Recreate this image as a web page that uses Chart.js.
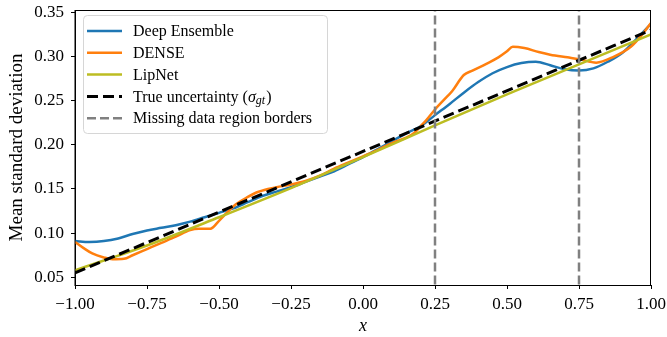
<!DOCTYPE html>
<html>
<head>
<meta charset="utf-8">
<script src="https://cdn.jsdelivr.net/npm/chart.js@4.4.1/dist/chart.umd.min.js"></script>
<style>
    html, body { margin: 0; padding: 0; background: #fff; }
</style>
</head>
<body>
<canvas id="uncertainty-chart" width="667" height="337"></canvas>
<script>
"use strict";

// Deep Ensemble
const ensembleX = [-1.0, -0.95, -0.9, -0.85, -0.8, -0.75, -0.7, -0.65, -0.6, -0.55, -0.5, -0.45, -0.4, -0.35, -0.3, -0.25, -0.2, -0.15, -0.1, -0.05, 0.0, 0.05, 0.1, 0.15, 0.2, 0.25, 0.3, 0.35, 0.4, 0.45, 0.5, 0.55, 0.6, 0.65, 0.7, 0.75, 0.8, 0.85, 0.9, 0.95, 1.0];
const ensembleY = [0.091, 0.090, 0.091, 0.094, 0.099, 0.103, 0.106, 0.109, 0.113, 0.118, 0.123, 0.128, 0.135, 0.142, 0.147, 0.152, 0.158, 0.164, 0.170, 0.178, 0.186, 0.195, 0.204, 0.213, 0.221, 0.2336, 0.246, 0.259, 0.271, 0.281, 0.288, 0.2925, 0.294, 0.290, 0.2855, 0.284, 0.2865, 0.294, 0.304, 0.320, 0.337];

// DENSE
const denseX = [-1.0, -0.97, -0.94, -0.9, -0.87, -0.83, -0.8, -0.75, -0.7, -0.65, -0.6, -0.57, -0.53, -0.5, -0.47, -0.44, -0.4, -0.37, -0.33, -0.3, -0.25, -0.2, -0.15, -0.1, -0.05, 0.0, 0.05, 0.1, 0.15, 0.18, 0.2, 0.22, 0.25, 0.28, 0.31, 0.35, 0.38, 0.43, 0.47, 0.5, 0.52, 0.56, 0.61, 0.65, 0.71, 0.75, 0.81, 0.87, 0.93, 0.97, 1.0];
const denseY = [0.090, 0.083, 0.077, 0.0725, 0.0705, 0.071, 0.075, 0.082, 0.089, 0.096, 0.1035, 0.105, 0.105, 0.114, 0.124, 0.133, 0.141, 0.146, 0.150, 0.152, 0.155, 0.159, 0.165, 0.173, 0.180, 0.187, 0.194, 0.202, 0.208, 0.214, 0.221, 0.228, 0.240, 0.2505, 0.261, 0.279, 0.284, 0.292, 0.299, 0.306, 0.311, 0.3095, 0.305, 0.302, 0.299, 0.297, 0.293, 0.2996, 0.311, 0.325, 0.338];

// LipNet
const lipnetX = [-1.0, -0.9, -0.75, -0.5, -0.25, 0.0, 0.25, 0.5, 0.75, 1.0];
const lipnetY = [0.058, 0.069, 0.086, 0.118, 0.151, 0.186, 0.222, 0.257, 0.291, 0.325];

// True uncertainty (sigma_gt)
const trueX = [-1.0, 1.0];
const trueY = [0.055, 0.330];

// Missing data region borders
const borderX = [0.25, 0.75];

const xTicks = [-1.0, -0.75, -0.5, -0.25, 0.0, 0.25, 0.5, 0.75, 1.0];
const yTicks = [0.05, 0.10, 0.15, 0.20, 0.25, 0.30, 0.35];
const xMin = -1.0;
const xMax = 1.0;
const yMin = 0.0413;
const yMax = 0.3526;

const SERIF = '"Liberation Serif", "DejaVu Serif", serif';

function toPoints(xs, ys) {
    return xs.map((x, i) => ({ x: x, y: ys[i] }));
}

// vertical border lines, separated by a gap
function borderPoints() {
    const pts = [];
    borderX.forEach((x, i) => {
        if (i > 0) pts.push({ x: x, y: null });
        pts.push({ x: x, y: yMin - 1 });
        pts.push({ x: x, y: yMax + 1 });
    });
    return pts;
}

function fmt(v) {
    return v.toFixed(2).replace('-', '\u2212');
}

/**
 * Frame (top/right spines) and in-plot legend
 */
const framePlugin = {
    id: 'frame',
    afterDatasetsDraw(chart) {
        const { ctx, chartArea } = chart;
        ctx.save();
        ctx.strokeStyle = '#000';
        ctx.lineWidth = 1;
        ctx.strokeRect(chartArea.left, chartArea.top + 0.5, chartArea.right - chartArea.left - 0.5, chartArea.bottom - chartArea.top);
        ctx.restore();
    },
    afterDraw(chart) {
        const { ctx, chartArea } = chart;
        const entries = chart.data.datasets.filter(ds => ds.legendIndex !== undefined)
            .sort((a, b) => a.legendIndex - b.legendIndex);

        const boxX = chartArea.left + 8;
        const boxY = chartArea.top + 5;
        const boxW = 244;
        const boxH = 118;
        const rowH = 21.8;

        ctx.save();
        ctx.beginPath();
        ctx.roundRect(boxX + 0.5, boxY + 0.5, boxW, boxH, 4);
        ctx.fillStyle = 'rgba(255,255,255,0.8)';
        ctx.fill();
        ctx.strokeStyle = '#d6d6d6';
        ctx.lineWidth = 1;
        ctx.stroke();

        entries.forEach((ds, i) => {
            const cy = boxY + 16 + i * rowH;
            ctx.beginPath();
            ctx.setLineDash(ds.borderDash || []);
            ctx.lineDashOffset = 0;
            ctx.strokeStyle = ds.borderColor;
            ctx.lineWidth = ds.borderWidth;
            ctx.moveTo(boxX + 4, cy);
            ctx.lineTo(boxX + 39, cy);
            ctx.stroke();
            ctx.setLineDash([]);

            ctx.fillStyle = '#000';
            ctx.textBaseline = 'middle';
            ctx.textAlign = 'left';
            let tx = boxX + 50;
            const ty = cy + 1;
            if (ds.mathLabel) {
                ctx.font = '16px ' + SERIF;
                const pre = 'True uncertainty (';
                ctx.fillText(pre, tx, ty);
                tx += ctx.measureText(pre).width;
                ctx.font = 'italic 16px ' + SERIF;
                ctx.fillText('\u03c3', tx, ty);
                tx += ctx.measureText('\u03c3').width;
                ctx.font = 'italic 12px ' + SERIF;
                ctx.fillText('gt', tx, ty + 3);
                tx += ctx.measureText('gt').width + 1;
                ctx.font = '16px ' + SERIF;
                ctx.fillText(')', tx, ty);
            } else {
                ctx.font = '16px ' + SERIF;
                ctx.fillText(ds.label, tx, ty);
            }
        });
        ctx.restore();
    }
};

const lineStyle = {
    fill: false,
    pointRadius: 0,
    pointHoverRadius: 0,
    cubicInterpolationMode: 'monotone',
    borderCapStyle: 'butt'
};

new Chart(document.getElementById('uncertainty-chart').getContext('2d'), {
    type: 'line',
    data: {
        datasets: [
            {
                ...lineStyle,
                label: 'Missing data region borders',
                legendIndex: 4,
                data: borderPoints(),
                borderColor: '#808080',
                borderWidth: 2.5,
                borderDash: [9, 4],
                spanGaps: false,
                cubicInterpolationMode: 'default',
                tension: 0
            },
            {
                ...lineStyle,
                label: 'True uncertainty',
                mathLabel: true,
                legendIndex: 3,
                data: toPoints(trueX, trueY),
                borderColor: '#000000',
                borderWidth: 3,
                borderDash: [11, 5]
            },
            {
                ...lineStyle,
                label: 'LipNet',
                legendIndex: 2,
                data: toPoints(lipnetX, lipnetY),
                borderColor: '#bcbd22',
                borderWidth: 2.5
            },
            {
                ...lineStyle,
                label: 'DENSE',
                legendIndex: 1,
                data: toPoints(denseX, denseY),
                borderColor: '#ff7f0e',
                borderWidth: 2.5
            },
            {
                ...lineStyle,
                label: 'Deep Ensemble',
                legendIndex: 0,
                data: toPoints(ensembleX, ensembleY),
                borderColor: '#1f77b4',
                borderWidth: 2.5
            }
        ]
    },
    options: {
        responsive: false,
        animation: false,
        devicePixelRatio: 1,
        layout: {
            padding: { top: 10, right: 16, left: 0, bottom: 0 }
        },
        plugins: {
            legend: { display: false },
            tooltip: { enabled: false }
        },
        scales: {
            x: {
                type: 'linear',
                min: xMin,
                max: xMax,
                afterBuildTicks: (scale) => {
                    scale.ticks = xTicks.map(v => ({ value: v }));
                },
                afterFit: (scale) => {
                    scale.height = 52;
                    scale.paddingLeft = 0;
                    scale.paddingRight = 0;
                },
                ticks: {
                    autoSkip: false,
                    maxRotation: 0,
                    padding: 5,
                    color: '#000',
                    font: { family: SERIF, size: 17 },
                    callback: (value) => fmt(value)
                },
                grid: {
                    drawOnChartArea: false,
                    drawTicks: true,
                    tickLength: 4,
                    color: '#000'
                },
                border: { display: true, color: '#000', width: 1 },
                title: {
                    display: true,
                    text: 'x',
                    color: '#000',
                    font: { family: SERIF, size: 18, style: 'italic' },
                    padding: { top: 0, bottom: 0 }
                }
            },
            y: {
                type: 'linear',
                min: yMin,
                max: yMax,
                afterBuildTicks: (scale) => {
                    scale.ticks = yTicks.map(v => ({ value: v }));
                },
                afterFit: (scale) => {
                    scale.width = 75;
                    scale.paddingTop = 0;
                    scale.paddingBottom = 0;
                },
                ticks: {
                    padding: 7,
                    color: '#000',
                    font: { family: SERIF, size: 17 },
                    callback: (value) => fmt(value)
                },
                grid: {
                    drawOnChartArea: false,
                    drawTicks: true,
                    tickLength: 4,
                    color: '#000'
                },
                border: { display: true, color: '#000', width: 1 },
                title: {
                    display: true,
                    text: 'Mean standard deviation',
                    color: '#000',
                    font: { family: SERIF, size: 19 },
                    padding: { top: 6, bottom: 0 }
                }
            }
        }
    },
    plugins: [framePlugin]
});
</script>
</body>
</html>
